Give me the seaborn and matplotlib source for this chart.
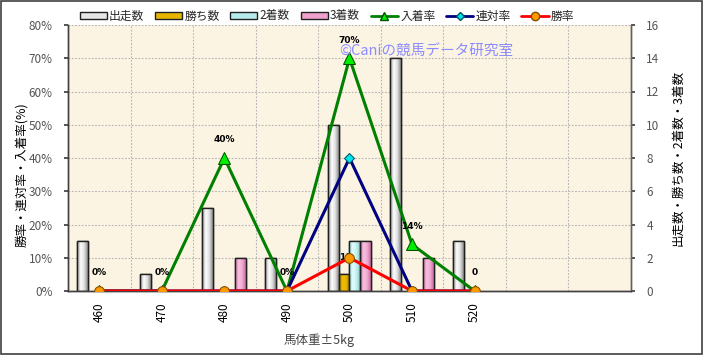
import numpy as np
import pandas as pd
import matplotlib
matplotlib.use("Agg")
import matplotlib.pyplot as plt
import matplotlib.colors as mcolors
from matplotlib.patches import Patch, Rectangle
from matplotlib.lines import Line2D
import seaborn as sns

# ---- data ----
weights = ["460", "470", "480", "490", "500", "510", "520"]
runs = [3, 1, 5, 2, 10, 14, 3]          # 出走数
wins = [0, 0, 0, 0, 1, 0, 0]            # 勝ち数
seconds = [0, 0, 0, 0, 3, 0, 0]         # 2着数
thirds = [0, 0, 2, 0, 3, 2, 0]          # 3着数
place_rate = [0, 0, 40, 0, 70, 14, 0]   # 入着率 (%)
quinella_rate = [0, 0, 0, 0, 40, 0, 0]  # 連対率 (%)
win_rate = [0, 0, 0, 0, 10, 0, 0]       # 勝率 (%)
place_labels = ["0%", "0%", "40%", "0%", "70%", "14%", "0"]
n_slots = 9

sns.set_theme(style="white")
plt.rcParams['font.family'] = ['Noto Sans CJK JP', 'DejaVu Sans']

fig = plt.figure(figsize=(7.03, 3.56), dpi=100)
ax2 = fig.add_axes([68/703, 1-291/356, (631-68)/703, (291-25)/356])
ax = ax2.twinx()
ax.yaxis.tick_left()
ax.yaxis.set_label_position("left")
ax2.yaxis.tick_right()
ax2.yaxis.set_label_position("right")

bg = '#FCF4E3'
ax2.set_facecolor(bg)
ax.patch.set_visible(False)
ax.set_zorder(ax2.get_zorder() + 1)

# ---- bars (right axis) ----
bar_names = ["出走数", "勝ち数", "2着数", "3着数"]
df_bars = pd.DataFrame({
    "weight": weights * 4,
    "kind": sum([[n] * len(weights) for n in bar_names], []),
    "count": runs + wins + seconds + thirds,
})
bar_cols = {"出走数": "#E6E6E6", "勝ち数": "#E8B400", "2着数": "#B8ECEC", "3着数": "#F0A0CC"}
sns.barplot(data=df_bars, x="weight", y="count", hue="kind", order=weights,
            hue_order=bar_names, palette=bar_cols, width=0.7, ax=ax2,
            edgecolor="#202020", linewidth=1.0, saturation=1, legend=False, zorder=2)

grad_specs = {
    "出走数": ["#8A8A8A", "#FFFFFF", "#E0E0E0", "#8A8A8A"],
    "勝ち数": ["#B08000", "#F0C000", "#E8B400", "#A07800"],
    "2着数": ["#90CCCC", "#E4FFFF", "#C8F2F2", "#90CCCC"],
    "3着数": ["#C86AA0", "#F8C4E0", "#F0A8D0", "#C86AA0"],
}
patches = [p for p in ax2.patches if isinstance(p, Rectangle)]
for i, p in enumerate(patches):
    kind = bar_names[i // len(weights)] if i < 4 * len(weights) else None
    if kind is None:
        continue
    if p.get_height() <= 0:
        p.set_visible(False)
        continue
    cmap = mcolors.LinearSegmentedColormap.from_list("g", grad_specs[kind])
    x0, w, h = p.get_x(), p.get_width(), p.get_height()
    grad = np.linspace(0, 1, 64).reshape(1, -1)
    im = ax2.imshow(grad, cmap=cmap, aspect='auto', extent=[x0, x0 + w, 0, h],
                    zorder=2.05, interpolation='bicubic')
    im.set_clip_path(p)
    edge = Rectangle((x0, 0), w, h, fill=False, edgecolor="#202020", linewidth=1.0, zorder=2.1)
    ax2.add_patch(edge)

ax2.set_ylim(0, 16)
ax2.set_yticks(range(0, 17, 2))
ax2.set_xlim(-0.5, n_slots - 0.5)

# ---- lines (left axis) ----
xs = np.arange(len(weights))
df_lines = pd.DataFrame({"x": xs, "入着率": place_rate, "連対率": quinella_rate, "勝率": win_rate})
sns.lineplot(data=df_lines, x="x", y="入着率", ax=ax, color="#008000", lw=2.2,
             marker="^", markersize=8, markerfacecolor="#00EE00", markeredgecolor="#005000", zorder=3)
sns.lineplot(data=df_lines, x="x", y="連対率", ax=ax, color="#000080", lw=2.2,
             marker="D", markersize=5, markerfacecolor="#00E5EE", markeredgecolor="#005060", zorder=4)
sns.lineplot(data=df_lines, x="x", y="勝率", ax=ax, color="#FF0000", lw=2.2,
             marker="o", markersize=7, markerfacecolor="#FF9900", markeredgecolor="#805000", zorder=5)

for xi, yi, lab in zip(xs, place_rate, place_labels):
    ax.annotate(lab, (xi, yi), xytext=(0, 13), textcoords="offset points",
                ha="center", va="center", fontsize=6.5, fontweight="bold",
                color="black", family="DejaVu Sans", zorder=6)
# partially hidden win-rate label at 500
ax2.text(4, 10, "10%", transform=ax.transData, ha="center", va="center",
         fontsize=6.5, fontweight="bold", color="black", family="DejaVu Sans", zorder=1.5)

ax.set_ylim(0, 80)
ax.set_yticks(range(0, 81, 10))
ax.set_yticklabels([f"{v}%" for v in range(0, 81, 10)])
ax.set_xlim(-0.5, n_slots - 0.5)

# ---- grid & ticks ----
ax2.set_xticks(np.arange(n_slots - 1) + 0.5, minor=True)
ax2.grid(True, which="minor", axis="x", color="#B4B4B4", linestyle=(0, (1.5, 1.5)), lw=0.8, zorder=0)
ax2.grid(True, which="major", axis="y", color="#B4B4B4", linestyle=(0, (1.5, 1.5)), lw=0.8, zorder=0)
ax2.grid(False, which="major", axis="x")
ax2.set_axisbelow(True)
ax2.set_xticks(np.arange(len(weights)))
ax2.set_xticklabels(weights, rotation=90, fontsize=8.5, color="black")
ax2.tick_params(axis="x", which="both", length=0, pad=8)
ax2.tick_params(axis="y", right=True, left=False, length=3, direction="out",
                labelsize=8.5, labelcolor="#555555", pad=8, color="#404040")
ax.tick_params(axis="y", left=True, right=False, length=3, direction="out",
               labelsize=8.5, labelcolor="#555555", pad=8, color="#404040")
ax.tick_params(axis="x", length=0, labelbottom=False)
ax.set_xlabel("")
ax.set_ylabel("")
ax2.set_xlabel("")
ax2.set_ylabel("")

for a in (ax, ax2):
    a.spines["top"].set_visible(False)
    a.spines["left"].set_color("#404040")
    a.spines["bottom"].set_color("#404040")
    a.spines["right"].set_color("#606060")
    for s in ("left", "bottom", "right"):
        a.spines[s].set_linewidth(1.0)

# axis titles
fig.text(22/703, 1-175/356, "勝率・連対率・入着率(%)", rotation=90, ha="center", va="center",
         fontsize=9, color="black")
fig.text(678/703, 1-158/356, "出走数・勝ち数・2着数・3着数", rotation=90, ha="center", va="center",
         fontsize=9, color="black")
fig.text(319/703, 1-340/356, "馬体重±5kg", ha="center", va="center", fontsize=9, color="#444444")

# watermark
fig.text(339/703, 1-52/356, "©Caniの競馬データ研究室", ha="left", va="center",
         fontsize=10.5, color="#8C8CFF", zorder=10)

# legend
handles = [
    Patch(facecolor="#E6E6E6", edgecolor="#202020", label="出走数"),
    Patch(facecolor="#E8B400", edgecolor="#202020", label="勝ち数"),
    Patch(facecolor="#B8ECEC", edgecolor="#202020", label="2着数"),
    Patch(facecolor="#F0A0CC", edgecolor="#202020", label="3着数"),
    Line2D([], [], color="#008000", lw=2, marker="^", markersize=6,
           markerfacecolor="#00EE00", markeredgecolor="#005000", label="入着率"),
    Line2D([], [], color="#000080", lw=2, marker="D", markersize=4,
           markerfacecolor="#00E5EE", markeredgecolor="#005060", label="連対率"),
    Line2D([], [], color="#FF0000", lw=2, marker="o", markersize=6,
           markerfacecolor="#FF9900", markeredgecolor="#805000", label="勝率"),
]
fig.legend(handles=handles, loc="center", bbox_to_anchor=(327/703, 1-16/356), ncol=7,
           frameon=False, fontsize=8.5, handlelength=2.3, handleheight=0.6,
           handletextpad=0.2, columnspacing=0.9, borderpad=0)

# figure border
fig.patches.append(Rectangle((0.5/703, 2.5/356), 701.5/703, 353/356, transform=fig.transFigure,
                             fill=False, edgecolor="#404040", lw=1.2))

fig.savefig("out.png", dpi=100)
